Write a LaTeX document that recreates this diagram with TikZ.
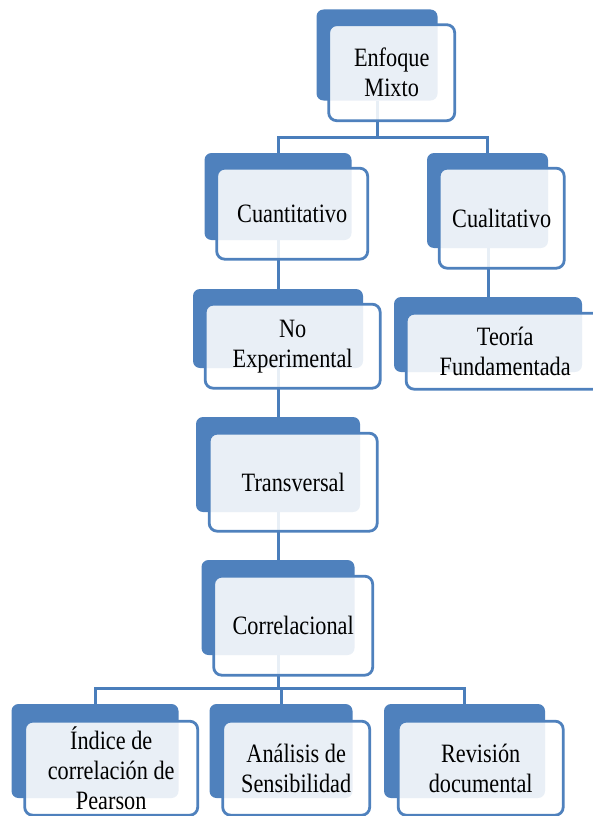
\documentclass[tikz,border=0pt]{standalone}
\usepackage{fontspec}
\newfontfamily\boxfont[FakeStretch=0.84]{Liberation Serif}
\usepackage{tikz}
\usetikzlibrary{positioning,backgrounds}
\definecolor{smartblue}{RGB}{79,129,189}
\definecolor{linkblue}{RGB}{74,126,187}

\begin{document}
\begin{tikzpicture}[x=1pt,y=-1pt,
  backbox/.style={fill=smartblue, draw=none, rounded corners=7pt, inner sep=0pt},
  frontbox/.style={draw=smartblue, line width=2.8pt, fill=white, fill opacity=0.88, text opacity=1,
    rounded corners=8pt, inner sep=0pt, align=center, font=\boxfont\fontsize{26.5}{30}\selectfont},
  link/.style={draw=linkblue, line width=3pt}]
\useasboundingbox (0,0) rectangle (592,816);

%Top
\node[backbox, minimum width=121, minimum height=91] (mixtoback) at (377,55) {};
\node[frontbox, minimum width=126, minimum height=96, below right=14pt and 11pt of mixtoback.north west] (mixto) {Enfoque\\Mixto};

%Left branch
\node[backbox, minimum width=147, minimum height=87] (cuantiback) at (278,196.5) {};
\node[frontbox, minimum width=151, minimum height=91, below right=14pt and 11pt of cuantiback.north west] (cuanti) {Cuantitativo};
\node[backbox, minimum width=170, minimum height=79] (noexpback) at (278,328.5) {};
\node[frontbox, minimum width=175, minimum height=84, below right=14pt and 11pt of noexpback.north west] (noexp) {No\\Experimental};
\node[backbox, minimum width=164, minimum height=95] (transvback) at (278,464.5) {};
\node[frontbox, minimum width=168, minimum height=98, below right=15pt and 12pt of transvback.north west] (transv) {Transversal};
\node[backbox, minimum width=153, minimum height=95] (correlback) at (278,607.5) {};
\node[frontbox, minimum width=159, minimum height=99, below right=15pt and 11pt of correlback.north west] (correl) {Correlacional};

%Right branch
\node[backbox, minimum width=121, minimum height=95] (cualiback) at (487.5,200.5) {};
\node[frontbox, minimum width=125, minimum height=100, below right=14pt and 11pt of cualiback.north west] (cuali) {Cualitativo};
\node[backbox, minimum width=188, minimum height=75] (teoriaback) at (488,334.5) {};
\node[frontbox, minimum width=198, minimum height=76, below right=15pt and 11pt of teoriaback.north west] (teoria) {Teoría\\Fundamentada};

%Bottom row
\node[backbox, minimum width=167, minimum height=94] (indiceback) at (95,751) {};
\node[frontbox, minimum width=173, minimum height=94, below right=16pt and 12pt of indiceback.north west] (indice) {Índice de\\correlación de\\Pearson};
\node[backbox, minimum width=143, minimum height=94] (analisisback) at (281,751) {};
\node[frontbox, minimum width=147, minimum height=94, below right=16pt and 12pt of analisisback.north west] (analisis) {Análisis de\\Sensibilidad};
\node[backbox, minimum width=161, minimum height=94] (revisionback) at (464.5,751) {};
\node[frontbox, minimum width=165, minimum height=94, below right=16pt and 13pt of revisionback.north west] (revision) {Revisión\\documental};

%Links
\begin{scope}[on background layer]
\coordinate (topbus) at (377,137);
\coordinate (lowbus) at (278,688);
\draw[link] (mixtoback.south) -- (topbus);
\draw[link] (cuantiback.north) |- (topbus) -| (cualiback.north);
\draw[link] (cuantiback.south) -- (noexpback.north);
\draw[link] (noexpback.south) -- (transvback.north);
\draw[link] (transvback.south) -- (correlback.north);
\draw[link] (teoriaback.north) -- (teoriaback.north |- cualiback.south);
\draw[link] (correlback.south) -- (lowbus);
\draw[link] (indiceback.north) |- (lowbus) -| (revisionback.north);
\draw[link] (analisisback.north) -- (analisisback.north |- lowbus);
\end{scope}

\end{tikzpicture}
\end{document}
